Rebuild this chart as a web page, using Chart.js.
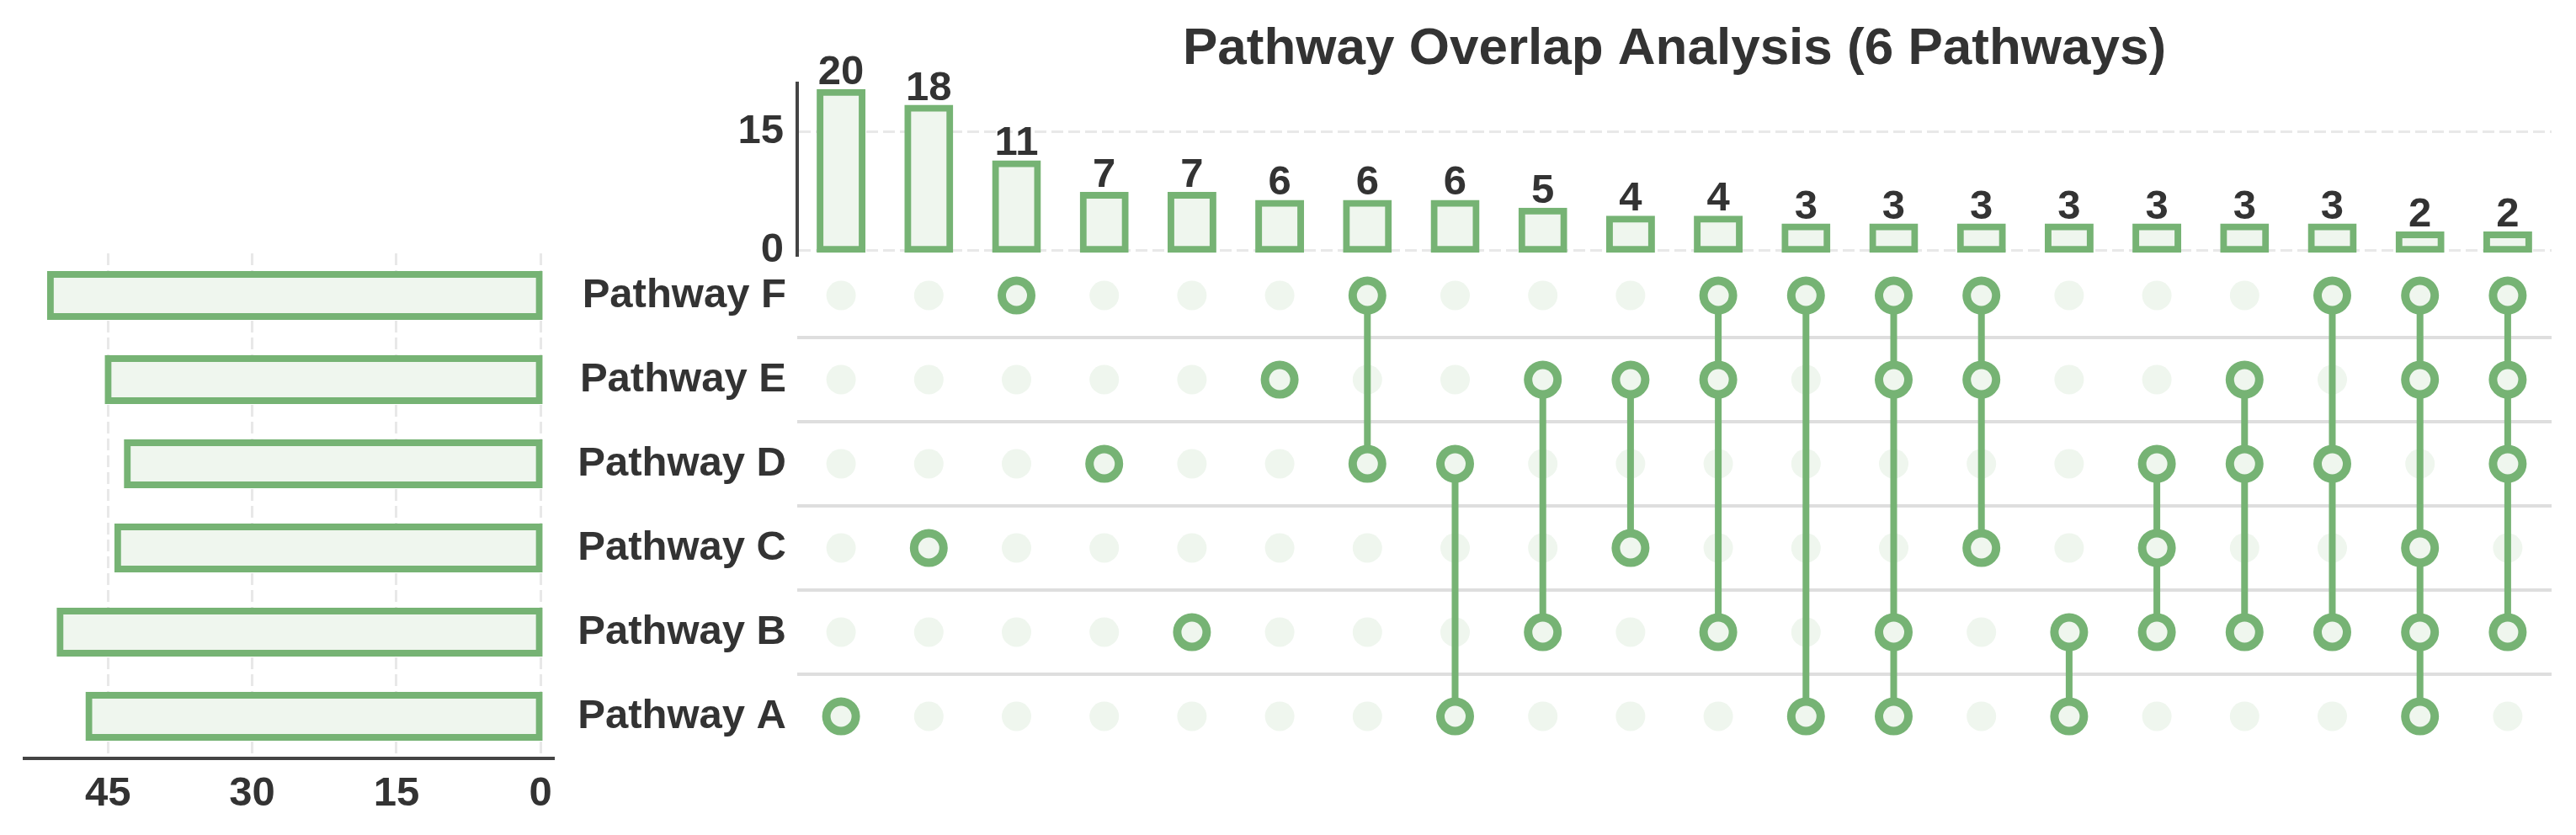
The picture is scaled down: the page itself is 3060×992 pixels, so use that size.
<!DOCTYPE html>
<html>
<head>
<meta charset="utf-8">
<script src="https://cdn.jsdelivr.net/npm/chart.js@4.4.1/dist/chart.umd.min.js"></script>
<style>
  body { margin: 0; background: #fff; }
  #wrap { position: relative; width: 3060px; height: 992px; overflow: hidden; }
  canvas { position: absolute; }
</style>
</head>
<body>
<div id="wrap">
  <canvas id="setChart" width="700" height="710" style="left:0;top:280px"></canvas>
  <canvas id="barChart" width="2200" height="350" style="left:860px;top:0"></canvas>
  <canvas id="matrixChart" width="2420" height="702" style="left:640px;top:250px"></canvas>
</div>
<script>
// Pathways, top to bottom as they appear in the matrix
const pathways = ['Pathway F', 'Pathway E', 'Pathway D', 'Pathway C', 'Pathway B', 'Pathway A'];
const setSizes = [51, 45, 43, 44, 50, 47];

// Intersections sorted by size, members given by pathway letter
const intersectionSizes = [20, 18, 11, 7, 7, 6, 6, 6, 5, 4, 4, 3, 3, 3, 3, 3, 3, 3, 2, 2];
const intersectionMembers = ['A', 'C', 'F', 'D', 'B', 'E', 'FD', 'DA', 'EB', 'EC',
  'FEB', 'FA', 'FEBA', 'FEC', 'BA', 'DCB', 'EDB', 'FDB', 'FECBA', 'FEDB'];

const sizeTicks = [0, 15];
const setTicks = [0, 15, 30, 45];

const GREEN = '#76b374';
const LIGHT = '#eff6ee';
const TEXT = '#333333';
const FONT = "'Liberation Sans', Arial, sans-serif";
const tickFont = { family: FONT, size: 49, weight: 'bold' };

const intersectionLabels = intersectionMembers.map(m => m.split('').join('&'));
const members = intersectionMembers.map(m => m.split('').map(l => 'Pathway ' + l));

// matrix points
const bgDots = [];
intersectionSizes.forEach((_, i) => pathways.forEach(p => bgDots.push({ x: i, y: p })));
const activeDots = [];
members.forEach((ms, i) => ms.forEach(p => activeDots.push({ x: i, y: p })));
const links = [];
members.forEach((ms, i) => {
  if (ms.length < 2) return;
  const rows = ms.map(p => pathways.indexOf(p));
  links.push({
    data: [{ x: i, y: pathways[Math.min(...rows)] }, { x: i, y: pathways[Math.max(...rows)] }],
    showLine: true,
    borderColor: GREEN,
    borderWidth: 8,
    pointRadius: 0,
    pointHoverRadius: 0,
    order: 2
  });
});

// value labels above the intersection bars
const barLabels = {
  id: 'barLabels',
  afterDatasetsDraw(chart) {
    const ctx = chart.ctx;
    const meta = chart.getDatasetMeta(0);
    ctx.save();
    ctx.font = `bold 49px ${FONT}`;
    ctx.fillStyle = TEXT;
    ctx.textAlign = 'center';
    ctx.textBaseline = 'alphabetic';
    meta.data.forEach((bar, i) => ctx.fillText(intersectionSizes[i], bar.x, bar.y - 10));
    ctx.restore();
  }
};

// set size bars (left)
new Chart(document.getElementById('setChart'), {
  type: 'bar',
  data: {
    labels: pathways,
    datasets: [{
      data: setSizes,
      backgroundColor: LIGHT,
      borderColor: GREEN,
      borderWidth: 8,
      borderSkipped: false,
      inflateAmount: 4,
      barPercentage: 0.5,
      categoryPercentage: 1
    }]
  },
  options: {
    indexAxis: 'y',
    responsive: false,
    animation: false,
    events: [],
    layout: { padding: { left: 29, right: 43, top: 21, bottom: 0 } },
    plugins: { legend: { display: false }, tooltip: { enabled: false } },
    scales: {
      x: {
        reverse: true,
        min: -1.3,
        max: 53.7,
        afterBuildTicks: s => { s.ticks = setTicks.map(v => ({ value: v })); },
        afterFit: s => { s.height = 89; },
        grid: { color: '#e8e8e8', lineWidth: 3, drawTicks: false },
        border: { display: true, color: '#444444', width: 4, dash: [14, 6] },
        ticks: { color: TEXT, font: tickFont, padding: 13 }
      },
      y: { display: false }
    }
  }
});

// intersection size bars (top)
new Chart(document.getElementById('barChart'), {
  type: 'bar',
  data: {
    labels: intersectionLabels,
    datasets: [{
      data: intersectionSizes,
      backgroundColor: LIGHT,
      borderColor: GREEN,
      borderWidth: 8,
      borderSkipped: false,
      inflateAmount: 4,
      barPercentage: 0.48,
      categoryPercentage: 1
    }]
  },
  options: {
    responsive: false,
    animation: false,
    events: [],
    layout: { padding: { left: 0, right: 29, top: 0, bottom: 47 } },
    plugins: {
      legend: { display: false },
      tooltip: { enabled: false },
      title: {
        display: true,
        fullSize: false,
        text: 'Pathway Overlap Analysis (6 Pathways)',
        color: TEXT,
        font: { family: FONT, size: 62, weight: 'bold' },
        padding: { top: 22, bottom: 3 }
      }
    },
    scales: {
      x: { display: false },
      y: {
        min: -0.55,
        max: 21.1,
        afterBuildTicks: s => { s.ticks = sizeTicks.map(v => ({ value: v })); },
        afterFit: s => { s.width = 87; },
        grid: { color: '#e8e8e8', lineWidth: 3, drawTicks: false },
        border: { display: true, color: '#444444', width: 4, dash: [14, 6] },
        ticks: { color: TEXT, font: tickFont, padding: 16 }
      }
    }
  },
  plugins: [barLabels]
});

// membership matrix
new Chart(document.getElementById('matrixChart'), {
  type: 'scatter',
  data: {
    datasets: [
      {
        data: activeDots,
        pointRadius: 17.5,
        pointHoverRadius: 17.5,
        pointBorderWidth: 10,
        pointBorderColor: GREEN,
        pointBackgroundColor: LIGHT,
        order: 1
      },
      ...links,
      {
        data: bgDots,
        pointRadius: 17.5,
        pointHoverRadius: 17.5,
        pointBorderWidth: 0,
        pointBackgroundColor: LIGHT,
        order: 3
      }
    ]
  },
  options: {
    responsive: false,
    animation: false,
    events: [],
    layout: { padding: { left: 0, right: 29, top: 51, bottom: 51 } },
    plugins: { legend: { display: false }, tooltip: { enabled: false } },
    scales: {
      x: { type: 'linear', display: false, min: -0.5, max: 19.5 },
      y: {
        type: 'category',
        labels: pathways,
        offset: true,
        afterFit: s => { s.width = 307; },
        grid: {
          offset: true,
          lineWidth: 4,
          drawTicks: false,
          color: c => (c.type !== 'tick' || c.index === 0) ? 'rgba(0,0,0,0)' : '#dedede'
        },
        border: { display: false },
        ticks: { color: TEXT, font: tickFont, padding: 13 }
      }
    }
  }
});
</script>
</body>
</html>
